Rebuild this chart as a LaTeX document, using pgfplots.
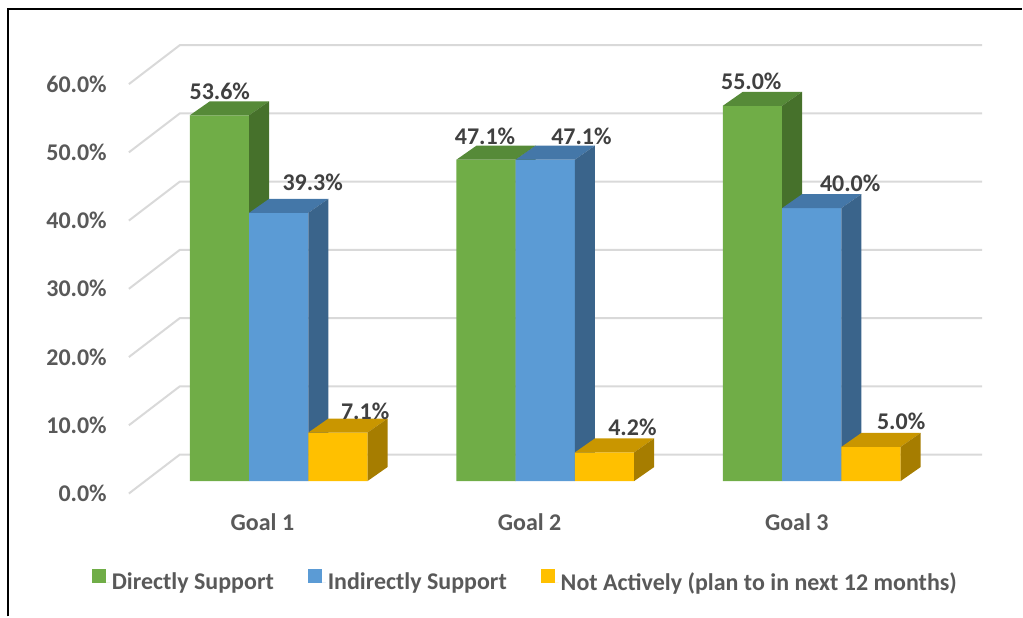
\documentclass[border=0pt]{standalone}
\usepackage{fontspec}
\setmainfont{Carlito}
\usepackage{pgfplots}
\pgfplotsset{compat=1.18}
\definecolor{cgreen}{HTML}{70AD47}
\definecolor{cgreentop}{HTML}{568A38}
\definecolor{cgreenside}{HTML}{46712B}
\definecolor{cblue}{HTML}{5B9BD5}
\definecolor{cbluetop}{HTML}{4477A8}
\definecolor{cblueside}{HTML}{3A648B}
\definecolor{cyellow}{HTML}{FFC000}
\definecolor{cyellowtop}{HTML}{C99600}
\definecolor{cyellowside}{HTML}{A67D00}
\definecolor{gridc}{HTML}{D9D9D9}
\definecolor{ctext}{HTML}{595959}
\definecolor{clabel}{HTML}{404040}
\newcommand\lf{\fontsize{24}{28}\selectfont\bfseries}
% 3D bar: #1 left x of front face, #2 value, #3 front, #4 top, #5 side
\newcommand\tdbar[5]{%
  \pgfmathsetmacro\xa{#1}%
  \pgfmathsetmacro\xb{#1+59.3}%
  \pgfmathsetmacro\xc{#1+20}%
  \pgfmathsetmacro\xd{#1+79.3}%
  \pgfmathsetmacro\vt{#2+2.05}%
  \edef\doplot{%
    \noexpand\addplot[fill=#3,draw=none,forget plot] coordinates {(\xa,0) (\xb,0) (\xb,#2) (\xa,#2) (\xa,0)};
    \noexpand\addplot[fill=#4,draw=none,forget plot] coordinates {(\xa,#2) (\xc,\vt) (\xd,\vt) (\xb,#2) (\xa,#2)};
    \noexpand\addplot[fill=#5,draw=none,forget plot] coordinates {(\xb,0) (\xd,2.05) (\xd,\vt) (\xb,#2) (\xb,0)};
  }\doplot
}
\begin{document}
\begin{tikzpicture}
\begin{axis}[
  width=1023pt, height=617pt, scale only axis,
  xmin=0, xmax=1023, ymin=-19.84, ymax=70.50,
  hide axis, clip=false,
  legend image code/.code={\fill[#1] (0pt,-1pt) rectangle (14pt,13pt); \path (14pt,0pt) -- (18pt,0pt);},
  legend style={at={(0.514,0.0567)}, anchor=center, draw=none, fill=none,
    legend columns=3, font=\lf, text=ctext,
    nodes={inner sep=2pt},
    /tikz/every even column/.append style={column sep=32pt}},
]
\path (rel axis cs:0,0) rectangle (rel axis cs:1,1);
% legend
\addlegendimage{fill=cgreen, draw=none}
\addlegendentry{Directly Support}
\addlegendimage{fill=cblue, draw=none}
\addlegendentry{Indirectly Support}
\addlegendimage{fill=cyellow, draw=none}
\addlegendentry{Not Actively (plan to in next 12 months)}
% gridlines (front diagonal + back wall)
\addplot[gridc, line width=2pt, forget plot] coordinates {(129,-1.83) (180,3.88) (983,3.88)};
\addplot[gridc, line width=2pt, forget plot] coordinates {(129,8.17) (180,13.88) (983,13.88)};
\addplot[gridc, line width=2pt, forget plot] coordinates {(129,18.17) (180,23.88) (983,23.88)};
\addplot[gridc, line width=2pt, forget plot] coordinates {(129,28.17) (180,33.88) (983,33.88)};
\addplot[gridc, line width=2pt, forget plot] coordinates {(129,38.17) (180,43.88) (983,43.88)};
\addplot[gridc, line width=2pt, forget plot] coordinates {(129,48.17) (180,53.88) (983,53.88)};
\addplot[gridc, line width=2pt, forget plot] coordinates {(129,58.17) (180,63.88) (983,63.88)};
% bars
\tdbar{190}{53.6}{cgreen}{cgreentop}{cgreenside}
\tdbar{249.3}{39.3}{cblue}{cbluetop}{cblueside}
\tdbar{308.6}{7.1}{cyellow}{cyellowtop}{cyellowside}
\tdbar{456.9}{47.1}{cgreen}{cgreentop}{cgreenside}
\tdbar{516.2}{47.1}{cblue}{cbluetop}{cblueside}
\tdbar{575.5}{4.2}{cyellow}{cyellowtop}{cyellowside}
\tdbar{723.6}{55.0}{cgreen}{cgreentop}{cgreenside}
\tdbar{782.9}{40.0}{cblue}{cbluetop}{cblueside}
\tdbar{842.2}{5.0}{cyellow}{cyellowtop}{cyellowside}
% data labels
\begin{scope}[every node/.style={font=\lf, text=clabel, inner sep=0pt}]
\node at (axis cs:220,57.17) {53.6\%};
\node at (axis cs:313,43.85) {39.3\%};
\node at (axis cs:365.5,10.18) {7.1\%};
\node at (axis cs:485.5,50.59) {47.1\%};
\node at (axis cs:582,50.59) {47.1\%};
\node at (axis cs:633,7.83) {4.2\%};
\node at (axis cs:752,58.64) {55.0\%};
\node at (axis cs:851,43.56) {40.0\%};
\node at (axis cs:902,8.71) {5.0\%};
\end{scope}
% y tick labels
\begin{scope}[every node/.style={font=\lf, text=ctext, inner sep=0pt, anchor=east}]
\node at (axis cs:107,-1.83) {0.0\%};
\node at (axis cs:107,8.17) {10.0\%};
\node at (axis cs:107,18.17) {20.0\%};
\node at (axis cs:107,28.17) {30.0\%};
\node at (axis cs:107,38.17) {40.0\%};
\node at (axis cs:107,48.17) {50.0\%};
\node at (axis cs:107,58.17) {60.0\%};
\end{scope}
% category labels
\begin{scope}[every node/.style={font=\lf, text=ctext, inner sep=0pt}]
\node at (axis cs:262.7,-6.08) {Goal 1};
\node at (axis cs:530.1,-6.08) {Goal 2};
\node at (axis cs:797.5,-6.08) {Goal 3};
\end{scope}
% chart border (top and left visible)
\draw[black, line width=2pt] (axis cs:8,-19.84) -- (axis cs:8,69.18) -- (axis cs:1023,69.18);
\end{axis}
\end{tikzpicture}
\end{document}
